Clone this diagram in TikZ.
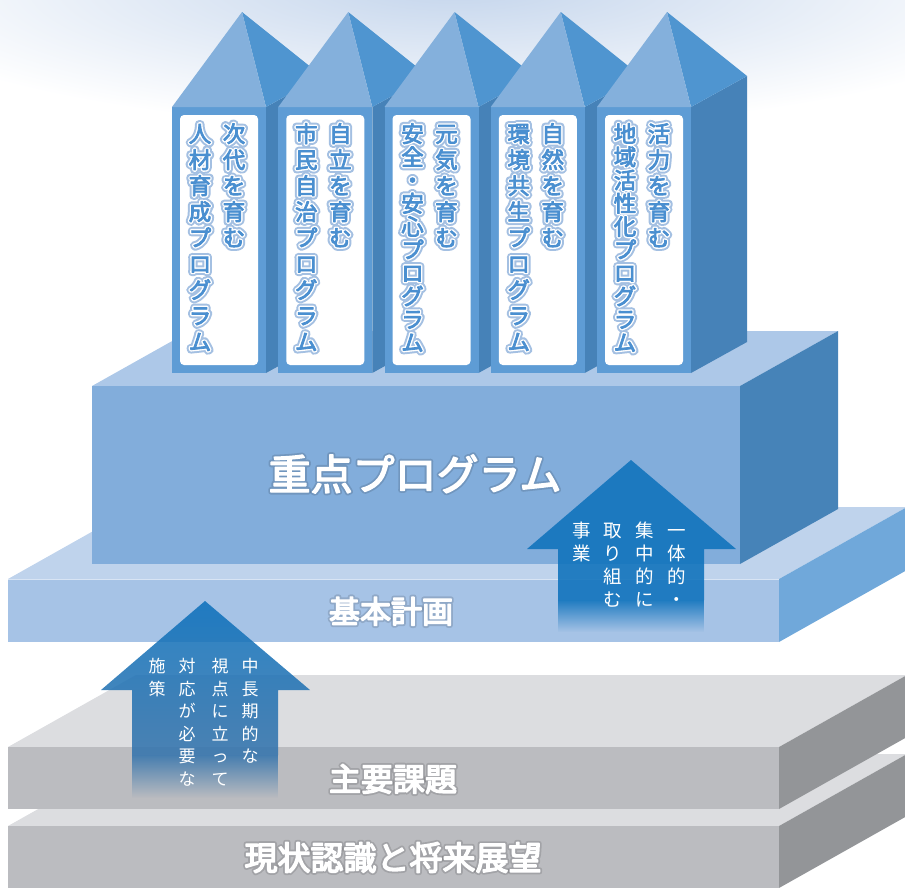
\documentclass[tikz,border=0pt]{standalone}
\usepackage{fontspec}
\usetikzlibrary{fadings}
\newfontfamily\jpR{Noto Sans CJK JP}
\lineskiplimit=-40pt\relax
\definecolor{glowc}{HTML}{C4D5EC}
\definecolor{pfront}{HTML}{5E9CD5}
\definecolor{pside}{HTML}{4682B8}
\definecolor{pyrL}{HTML}{84B0DC}
\definecolor{pyrR}{HTML}{4F95D0}
\definecolor{ptext}{HTML}{4A8FD0}
\definecolor{phalo}{HTML}{A4C0E2}
\definecolor{boxF}{HTML}{82ADDB}
\definecolor{boxT}{HTML}{ADC8E8}
\definecolor{boxS}{HTML}{4683B8}
\definecolor{lsF}{HTML}{A6C3E6}
\definecolor{lsT}{HTML}{BFD3EC}
\definecolor{lsS}{HTML}{70A8DA}
\definecolor{gF}{HTML}{BBBCC0}
\definecolor{gT}{HTML}{DCDDE0}
\definecolor{gS}{HTML}{939598}
\definecolor{arrA}{HTML}{0E72BC}
\definecolor{arrB}{HTML}{3675AD}
\tikzfading[name=fadedown, top color=transparent!0, bottom color=transparent!100]
% text render mode: fill + stroke of given width (in the current colour)
\newcommand\trb[1]{\special{pdf:literal direct 2 Tr #1 w 1 j 1 J}}
\newcommand\tre{\special{pdf:literal direct 0 Tr 0.4 w 0 j 0 J}}
\newcommand\colstrut{\rule{0pt}{22pt}}
% arrow text column: name, x, first baseline, pitch, style, chars
\newcommand\vcol[6]{\foreach \vchar [count=\i from 0] in {#6} {\node[#5] (#1-\i) at ({#2},{#3+\i*#4}) {\vchar};}}
% pillar text column with halo: name, x, first baseline, pitch, text
\newcommand\pcol[5]{%
  \node[pcolst, font={\fontsize{22.5}{#4}\selectfont\jpR}, text=phalo] (#1h) at ({#2},{#3-22}) {\trb{7.6}\colstrut #5\tre};
  \node[pcolst, font={\fontsize{22.5}{#4}\selectfont\jpR}, text=white] (#1w) at ({#2},{#3-22}) {\trb{3.6}\colstrut #5\tre};
  \node[pcolst, font={\fontsize{22.5}{#4}\selectfont\jpR}, text=ptext] (#1) at ({#2},{#3-22}) {\trb{0.8}\colstrut #5\tre};
}
\newcommand\pillar[5]{%
  \fill[pside] ({#1+94},107) -- ({#1+150},76) -- ({#1+150},342) -- ({#1+94},373) -- cycle;
  \fill[pfront] (#1,107) rectangle ({#1+94},373);
  \fill[pyrR] ({#1+70},12) -- ({#1+94},107) -- ({#1+150},76) -- cycle;
  \fill[pyrL] ({#1+70},12) -- (#1,107) -- ({#1+94},107) -- cycle;
  \node[panel] (#2) at ({#1+47},240) {};
  \pcol{#2r}{#1+62}{142}{26}{#3}
  \pcol{#2l}{#1+28}{142}{#5}{#4}
}
% slab label with a soft dark glow: name, x, baseline, size, text
\newcommand\slablabel[5]{%
  \node[anchor=base, inner sep=0, text=black, font={\fontsize{#4}{#4}\selectfont\jpR}] (#1s) at (#2,#3) {\pgfsetstrokeopacity{0.13}\pgfsetfillopacity{0.13}\trb{5}#5\tre};
  \node[anchor=base, inner sep=0, text=white, font={\fontsize{#4}{#4}\selectfont\jpR}] (#1) at (#2,#3) {\trb{1.4}#5\tre};
}
\begin{document}
\begin{tikzpicture}[x=1pt,y=-1pt,
  panel/.style={draw=none, fill=white, rounded corners=4pt, minimum width=78pt, minimum height=250pt, inner sep=0},
  pcolst/.style={inner sep=0, anchor=north, align=center},
  atxtR/.style={inner sep=0, anchor=base, text=white, font={\fontsize{18.5}{18.5}\selectfont\jpR}},
  atxtL/.style={inner sep=0, anchor=base, text=white, font={\fontsize{17}{17}\selectfont\jpR}}]
\useasboundingbox (0,0) rectangle (905,887);
% top glow
\begin{scope}
  \clip (0,0) rectangle (905,887);
  \shade[inner color=glowc, outer color=white] (455,-15) ellipse (610 and 145);
\end{scope}
% gray slab 2
\fill[gT] (8,826) -- (779,826) -- (907,754) -- (136,754) -- cycle;
\fill[gS] (779,826) -- (907,754) -- (907,816) -- (779,888) -- cycle;
\fill[gF] (8,826) rectangle (779,888);
% gray slab 1
\fill[gT] (8,747) -- (779,747) -- (907,675) -- (136,675) -- cycle;
\fill[gS] (779,747) -- (907,675) -- (907,737) -- (779,809) -- cycle;
\fill[gF] (8,747) rectangle (779,809);
% light blue slab
\fill[lsT] (8,579) -- (779,579) -- (907,507) -- (136,507) -- cycle;
\fill[lsS] (779,579) -- (907,507) -- (907,570) -- (779,642) -- cycle;
\fill[lsF] (8,579) rectangle (779,642);
\draw[white!40!lsT, line width=1pt] (8,579.5) -- (779,579.5);
% big box
\fill[boxT] (92,386) -- (740,386) -- (838,331) -- (190,331) -- cycle;
\fill[boxS] (740,386) -- (838,331) -- (838,509) -- (740,564) -- cycle;
\fill[boxF] (92,386) rectangle (740,564);
% pillars
\pillar{172}{pa}{次\\代\\を\\育\\む}{人\\材\\育\\成\\プ\\ロ\\グ\\ラ\\ム}{26}
\pillar{278.25}{pb}{自\\立\\を\\育\\む}{市\\民\\自\\治\\プ\\ロ\\グ\\ラ\\ム}{26}
\pillar{384.5}{pc}{元\\気\\を\\育\\む}{安\\全\\・\\安\\心\\プ\\ロ\\グ\\ラ\\ム}{23.2}
\pillar{490.75}{pd}{自\\然\\を\\育\\む}{環\\境\\共\\生\\プ\\ロ\\グ\\ラ\\ム}{26}
\pillar{597}{pe}{活\\力\\を\\育\\む}{地\\域\\活\\性\\化\\プ\\ロ\\グ\\ラ\\ム}{23.2}
% slab labels
\slablabel{lj}{415}{490}{42}{重点プログラム}
\slablabel{lk}{391}{623}{31}{基本計画}
\slablabel{ls}{393}{791}{32}{主要課題}
\slablabel{lg}{393}{870}{33}{現状認識と将来展望}
% right arrow
\fill[arrA, fill opacity=.88] (631,460) -- (736,549) -- (704,549) -- (704,600) -- (558,600) -- (558,549) -- (527,549) -- cycle;
\fill[arrA, fill opacity=.88, path fading=fadedown] (558,600) rectangle (704,632);
\vcol{ra}{677}{537}{23.3}{atxtR}{一,体,的,・}
\vcol{rb}{645}{537}{23.3}{atxtR}{集,中,的,に}
\vcol{rc}{613}{537}{23.3}{atxtR}{取,り,組,む}
\vcol{rd}{582}{537}{23.3}{atxtR}{事,業}
% left arrow
\shade[top color=arrA, bottom color=arrB, fill opacity=.88] (205,601) -- (310,690) -- (278,690) -- (278,755) -- (132,755) -- (132,690) -- (101,690) -- cycle;
\fill[arrB, fill opacity=.88, path fading=fadedown] (132,755) rectangle (278,798);
\vcol{la}{250}{672.5}{22.5}{atxtL}{中,長,期,的,な}
\vcol{lb}{220}{672.5}{22.5}{atxtL}{視,点,に,立,っ,て}
\vcol{lc}{187}{672.5}{22.5}{atxtL}{対,応,が,必,要,な}
\vcol{ld}{157}{672.5}{22.5}{atxtL}{施,策}
\end{tikzpicture}
\end{document}
